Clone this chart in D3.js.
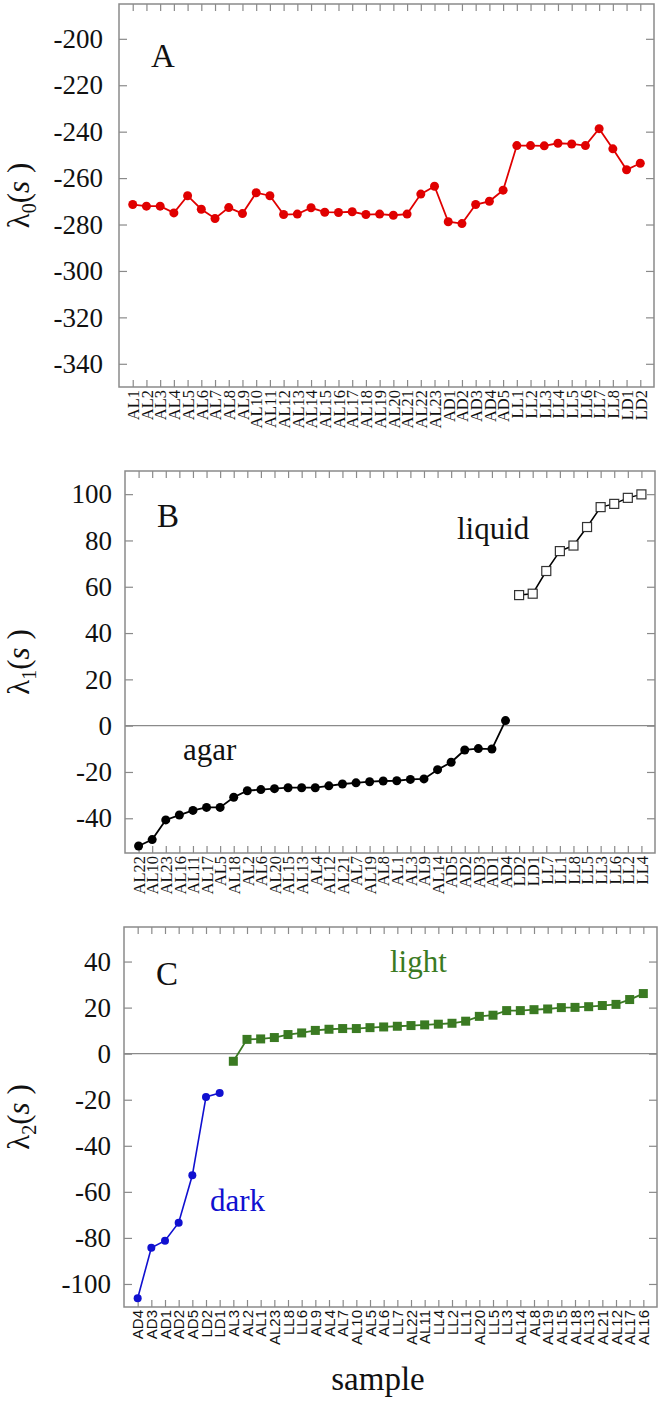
<!DOCTYPE html>
<html>
<head>
<meta charset="utf-8">
<script src="https://cdn.jsdelivr.net/npm/d3@7/dist/d3.min.js"></script>
<style>
  body { margin: 0; background: #fff; }
  svg text { fill: #111; }
</style>
</head>
<body>
<div id="chart"></div>
<script>
// ---- data ----
const samplesA = ["AL1","AL2","AL3","AL4","AL5","AL6","AL7","AL8","AL9","AL10","AL11","AL12","AL13","AL14","AL15","AL16","AL17","AL18","AL19","AL20","AL21","AL22","AL23","AD1","AD2","AD3","AD4","AD5","LL1","LL2","LL3","LL4","LL5","LL6","LL7","LL8","LD1","LD2"];
const lambda0 = [-271.4,-272.1,-272.1,-275,-267.6,-273.4,-277.4,-272.7,-275.3,-266.3,-267.6,-275.7,-275.5,-272.8,-274.7,-274.8,-274.5,-275.7,-275.5,-276,-275.5,-266.9,-263.5,-278.8,-279.6,-271.4,-270,-265.2,-246,-246,-246.1,-245,-245.3,-246,-238.7,-247.4,-256.4,-253.6];

const samplesB = ["AL22","AL10","AL23","AL16","AL11","AL17","AL5","AL18","AL2","AL6","AL20","AL15","AL13","AL4","AL12","AL21","AL7","AL19","AL8","AL1","AL3","AL9","AL14","AD5","AD2","AD3","AD1","AD4","LD2","LD1","LL7","LL1","LL8","LL5","LL3","LL6","LL2","LL4"];
const lambda1Agar = [-52,-49.2,-40.7,-38.6,-36.6,-35.3,-35.3,-30.9,-28.1,-27.6,-27.2,-26.8,-26.8,-26.8,-26,-25.2,-24.7,-24.2,-23.9,-23.8,-23.2,-23,-19,-15.8,-10.5,-9.9,-10.1,2.2];
const lambda1Liquid = [56.4,57,66.8,75.4,77.8,85.8,94.4,95.8,98.4,99.9];

const samplesC = ["AD4","AD3","AD1","AD2","AD5","LD2","LD1","AL3","AL2","AL1","AL23","LL8","LL6","AL9","AL4","AL7","AL10","AL5","AL6","LL7","AL22","AL11","LL4","LL2","LL1","AL20","LL5","LL3","AL14","AL8","AL19","AL15","AL18","AL13","AL21","AL12","AL17","AL16"];
const lambda2Dark = [-106.2,-84.3,-81.2,-73.4,-52.8,-18.8,-17.1];
const lambda2Light = [-3.3,6.2,6.4,7,8.3,9,10.1,10.6,10.9,10.9,11.3,11.6,11.9,12.2,12.5,12.8,13.2,14.1,16.2,16.7,18.7,18.7,19.1,19.4,20,20.1,20.4,20.9,21.4,23.5,26.1];

const ticksA = [-340,-320,-300,-280,-260,-240,-220,-200];
const ticksB = [-40,-20,0,20,40,60,80,100];
const ticksC = [-100,-80,-60,-40,-20,0,20,40];

const W = 666, H = 1405;
const serif = "'Liberation Serif','Times New Roman',serif";
const sans = "'Liberation Sans',Arial,sans-serif";
const frameColor = "#8a8a8a";

const svg = d3.select("#chart").append("svg")
  .attr("width", W).attr("height", H);

// draws frame, inward ticks on all 4 sides, tick labels, y title
function drawPanel(p) {
  const x = d3.scalePoint().domain(p.samples).range([p.left, p.right]).padding(1);
  const y = d3.scaleLinear().domain(p.domain).range([p.bottom, p.top]);
  const g = svg.append("g");

  // zero line
  if (p.zero) {
    g.append("line")
      .attr("x1", p.left).attr("x2", p.right)
      .attr("y1", y(0)).attr("y2", y(0))
      .attr("stroke", frameColor).attr("stroke-width", 1.3);
  }

  const axL = g.append("g").attr("transform", `translate(${p.left},0)`)
    .call(d3.axisLeft(y).tickValues(p.ticks).tickSize(-8).tickSizeOuter(0)
      .tickPadding(p.labelGap).tickFormat(d => String(d)));
  const axR = g.append("g").attr("transform", `translate(${p.right},0)`)
    .call(d3.axisRight(y).tickValues(p.ticks).tickSize(-8).tickSizeOuter(0).tickFormat(""));
  const axT = g.append("g").attr("transform", `translate(0,${p.top})`)
    .call(d3.axisTop(x).tickSize(-7).tickSizeOuter(0).tickFormat(""));
  const axB = g.append("g").attr("transform", `translate(0,${p.bottom})`)
    .call(d3.axisBottom(x).tickSize(-7).tickSizeOuter(0));

  [axL, axR, axT, axB].forEach(a => {
    a.select(".domain").remove();
    a.selectAll(".tick line").attr("stroke", frameColor).attr("stroke-width", 1.2);
  });
  axL.selectAll("text")
    .attr("font-family", serif).attr("font-size", 27).attr("fill", "#111");
  axB.selectAll("text")
    .attr("font-family", p.xFont).attr("font-size", p.xSize).attr("fill", "#333")
    .attr("text-anchor", "end")
    .attr("dy", "0.35em")
    .attr("transform", "translate(0,3) rotate(-90)")
    .attr("x", 0).attr("y", 0);

  g.append("rect")
    .attr("x", p.left).attr("y", p.top)
    .attr("width", p.right - p.left).attr("height", p.bottom - p.top)
    .attr("fill", "none").attr("stroke", frameColor).attr("stroke-width", 1.5);

  // y title  λ_n(s )
  const t = g.append("text")
    .attr("transform", `translate(29,${(p.top + p.bottom) / 2}) rotate(-90)`)
    .attr("text-anchor", "middle")
    .attr("font-family", serif).attr("font-size", 31);
  t.append("tspan").text("λ");
  t.append("tspan").attr("font-size", 20).attr("dy", 7).text(p.sub);
  t.append("tspan").attr("dy", -7).text("(");
  t.append("tspan").attr("font-style", "italic").text("s");
  t.append("tspan").text(" )");

  // panel letter
  g.append("text").attr("x", p.left + 32).attr("y", p.letterY)
    .attr("font-family", serif).attr("font-size", 33).text(p.letter);

  return { g, x, y };
}

function drawSeries(panel, cats, vals, style) {
  const pts = cats.map((c, i) => ({ c, v: vals[i] }));
  const line = d3.line().x(d => panel.x(d.c)).y(d => panel.y(d.v));
  panel.g.append("path").datum(pts)
    .attr("d", line).attr("fill", "none")
    .attr("stroke", style.color).attr("stroke-width", style.width || 1.8);
  if (style.shape === "circle") {
    panel.g.selectAll(null).data(pts).enter().append("circle")
      .attr("cx", d => panel.x(d.c)).attr("cy", d => panel.y(d.v))
      .attr("r", style.r).attr("fill", style.color);
  } else {
    const s = style.size;
    panel.g.selectAll(null).data(pts).enter().append("rect")
      .attr("x", d => panel.x(d.c) - s / 2).attr("y", d => panel.y(d.v) - s / 2)
      .attr("width", s).attr("height", s)
      .attr("fill", style.fill).attr("stroke", style.stroke || "none")
      .attr("stroke-width", 1.2);
  }
}

// ---- panel A ----
const pA = drawPanel({
  samples: samplesA, domain: [-350, -185], ticks: ticksA,
  left: 119, right: 654, top: 4, bottom: 387, labelGap: 16,
  xFont: serif, xSize: 16.5, sub: "0", letter: "A", letterY: 67, zero: false
});
drawSeries(pA, samplesA, lambda0, { color: "#e00000", shape: "circle", r: 4.5 });

// ---- panel B ----
const pB = drawPanel({
  samples: samplesB, domain: [-55, 110], ticks: ticksB,
  left: 125, right: 655, top: 471, bottom: 853, labelGap: 13,
  xFont: serif, xSize: 16.5, sub: "1", letter: "B", letterY: 527, zero: true
});
drawSeries(pB, samplesB.slice(0, lambda1Agar.length), lambda1Agar, { color: "#000", shape: "circle", r: 4.5 });
drawSeries(pB, samplesB.slice(lambda1Agar.length), lambda1Liquid, { color: "#000", shape: "square", size: 9, fill: "#fff", stroke: "#333", width: 1.5 });
pB.g.append("text").attr("x", 457).attr("y", 539)
  .attr("font-family", serif).attr("font-size", 31).text("liquid");
pB.g.append("text").attr("x", 183).attr("y", 760)
  .attr("font-family", serif).attr("font-size", 31).text("agar");

// ---- panel C ----
const pC = drawPanel({
  samples: samplesC, domain: [-110, 55], ticks: ticksC,
  left: 124, right: 657, top: 927, bottom: 1307, labelGap: 13,
  xFont: sans, xSize: 15, sub: "2", letter: "C", letterY: 985, zero: true
});
drawSeries(pC, samplesC.slice(0, lambda2Dark.length), lambda2Dark, { color: "#1010d0", shape: "circle", r: 4, width: 1.6 });
drawSeries(pC, samplesC.slice(lambda2Dark.length), lambda2Light, { color: "#3a7a22", shape: "square", size: 9, fill: "#3a7a22", width: 1.8 });
pC.g.append("text").attr("x", 390).attr("y", 972)
  .attr("font-family", serif).attr("font-size", 31).style("fill", "#3a7a22").text("light");
pC.g.append("text").attr("x", 210).attr("y", 1211)
  .attr("font-family", serif).attr("font-size", 31).style("fill", "#1010d0").text("dark");

svg.append("text").attr("x", 378).attr("y", 1390)
  .attr("text-anchor", "middle")
  .attr("font-family", serif).attr("font-size", 33).text("sample");
</script>
</body>
</html>
